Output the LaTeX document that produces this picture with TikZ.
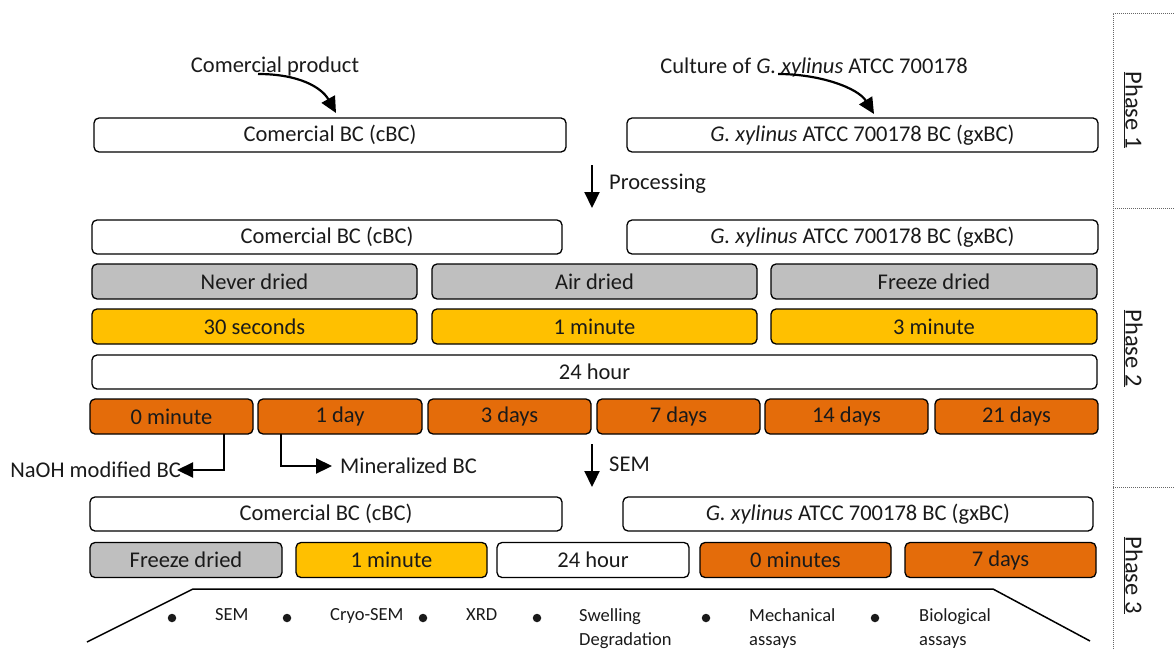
\documentclass[tikz,border=0pt]{standalone}
\usepackage{fontspec}
\setmainfont{Carlito}
\usetikzlibrary{arrows.meta}
\definecolor{bgray}{HTML}{BFBFBF}
\definecolor{byellow}{HTML}{FFC000}
\definecolor{borange}{HTML}{E46C0A}
\definecolor{txt}{HTML}{1A1A1A}
\begin{document}
\begin{tikzpicture}[x=1pt,y=-1pt,
  box/.style={draw, rounded corners=5pt, line width=1.3pt, minimum height=34pt, inner sep=0pt, outer sep=0pt, text=txt, font=\fontsize{22.5}{26}\selectfont},
  gbox/.style={box, fill=bgray},
  ybox/.style={box, fill=byellow},
  obox/.style={box, fill=borange},
  lbl/.style={inner sep=0pt, text=txt, font=\fontsize{22.5}{26}\selectfont},
  small/.style={inner sep=0pt, text=txt, font=\fontsize{18.5}{24}\selectfont, align=left, anchor=north west},
  arr/.style={line width=2.2pt, -{Triangle[length=16pt,width=15pt]}},
  phase/.style={rotate=-90, inner sep=0pt, text=txt, font=\fontsize{24.5}{28}\selectfont},
  sep/.style={line width=0.8pt, draw=black!60, dash pattern=on 1pt off 1pt},
  dot/.style={fill=txt, circle, inner sep=0pt, minimum size=8.5pt}
]
\useasboundingbox (0,0) rectangle (1174,650);

% Phase column
\draw[sep] (1174,13) -- (1113,13) -- (1113,650);
\draw[sep] (1113,208) -- (1174,208);
\draw[sep] (1113,487) -- (1174,487);
\node[phase] (p1) at (1133,110) {\underline{Phase 1}};
\node[phase] (p2) at (1133,348) {\underline{Phase 2}};
\node[phase] (p3) at (1133,575) {\underline{Phase 3}};

% Phase 1
\node[lbl] (cp) at (275,67) {Comercial product};
\node[lbl] (cg) at (814,68) {Culture of \textit{G. xylinus} ATCC 700178};
\node[box, minimum width=472pt] (a1) at (330,135) {Comercial BC (cBC)};
\node[box, minimum width=471pt] (a2) at (862.5,135) {\textit{G. xylinus} ATCC 700178 BC (gxBC)};
\coordinate (cps) at (258,74);
\coordinate (cpe) at (336,113);
\coordinate (cgs) at (778,74);
\coordinate (cge) at (874,114);
\draw[arr] (cps) .. controls (300,74) and (322,88) .. (cpe);
\draw[arr] (cgs) .. controls (820,74) and (858,88) .. (cge);

% Processing
\coordinate (pr1) at (592,165);
\coordinate (pr2) at (592,208);
\draw[arr] (pr1) -- (pr2);
\node[lbl, anchor=west] (prl) at (609,184) {Processing};

% Phase 2
\node[box, minimum width=470pt] (b1) at (327,237) {Comercial BC (cBC)};
\node[box, minimum width=471pt] (b2) at (862.5,237) {\textit{G. xylinus} ATCC 700178 BC (gxBC)};
\node[gbox, minimum width=325pt, minimum height=35pt] (g1) at (254.5,281.5) {Never dried};
\node[gbox, minimum width=325pt, minimum height=35pt] (g2) at (594.5,281.5) {Air dried};
\node[gbox, minimum width=326pt, minimum height=35pt] (g3) at (934,281.5) {Freeze dried};
\node[ybox, minimum width=325pt, minimum height=35pt] (y1) at (254.5,326.5) {30 seconds};
\node[ybox, minimum width=325pt, minimum height=35pt] (y2) at (594.5,326.5) {1 minute};
\node[ybox, minimum width=326pt, minimum height=35pt] (y3) at (934,326.5) {3 minute};
\node[box, minimum width=1005pt] (w1) at (594.5,372) {24 hour};
\node[obox, minimum width=163pt, minimum height=35pt] (o1) at (171.5,416.5) {0 minute};
\node[obox, minimum width=164pt, minimum height=35pt] (o2) at (340,416.5) {1 day};
\node[obox, minimum width=163pt, minimum height=35pt] (o3) at (509.5,416.5) {3 days};
\node[obox, minimum width=163pt, minimum height=35pt] (o4) at (678.5,416.5) {7 days};
\node[obox, minimum width=163pt, minimum height=35pt] (o5) at (846.5,416.5) {14 days};
\node[obox, minimum width=163pt, minimum height=35pt] (o6) at (1016.5,416.5) {21 days};

% branches
\node[lbl, anchor=east] (naoh) at (181,470) {NaOH modified BC};
\node[lbl, anchor=west] (mine) at (340,466) {Mineralized BC};
\draw[arr] ([xshift=52.5pt]o1.south) |- ([xshift=-4pt]naoh.east);
\draw[arr] ([xshift=-59pt]o2.south) |- ([xshift=-8pt]mine.west);

% SEM
\coordinate (s1) at (592,444);
\coordinate (s2) at (592,487);
\draw[arr] (s1) -- (s2);
\node[lbl, anchor=west] (seml) at (609,464) {SEM};

% Phase 3
\node[box, minimum width=472pt] (c1) at (326,514) {Comercial BC (cBC)};
\node[box, minimum width=470pt] (c2) at (858,514) {\textit{G. xylinus} ATCC 700178 BC (gxBC)};
\node[gbox, minimum width=192pt, minimum height=35pt] (d1) at (186,560) {Freeze dried};
\node[ybox, minimum width=191pt, minimum height=35pt] (d2) at (391.5,560) {1 minute};
\node[box, minimum width=192pt, minimum height=35pt] (d3) at (593,560) {24 hour};
\node[obox, minimum width=191pt, minimum height=35pt] (d4) at (795.5,560) {0 minutes};
\node[obox, minimum width=191pt, minimum height=35pt] (d5) at (1000.5,560) {7 days};

% trapezoid
\draw[line width=1.5pt] (87,642) -- (193,589) -- (993,589) -- (1090,641);

% bullets
\node[dot] (b1d) at (172,618) {};
\node[dot] (b2d) at (287,618) {};
\node[dot] (b3d) at (423,618) {};
\node[dot] (b4d) at (537,618) {};
\node[dot] (b5d) at (706,618) {};
\node[dot] (b6d) at (875,618) {};
\node[small] (t1) at (215,608) {SEM};
\node[small] (t2) at (330,608) {Cryo-SEM};
\node[small] (t3) at (466,608) {XRD};
\node[small] (t4) at (579,608) {Swelling\\[0pt]Degradation};
\node[small] (t5) at (749,608) {Mechanical\\[0pt]assays};
\node[small] (t6) at (919,608) {Biological\\[0pt]assays};
\end{tikzpicture}
\end{document}
